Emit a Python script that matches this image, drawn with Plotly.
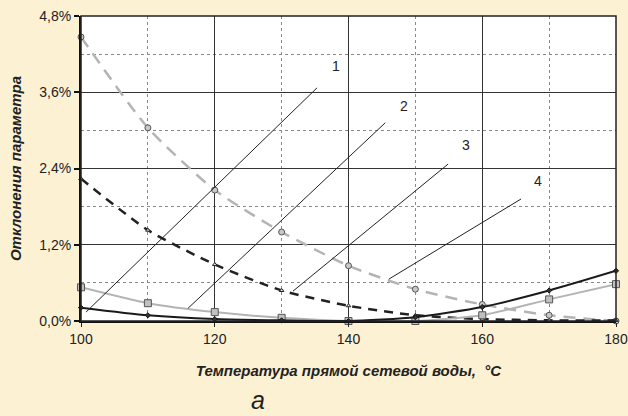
import plotly.graph_objects as go

T = [100, 110, 120, 130, 140, 150, 160, 170, 180]
s_gray_dash = [4.47, 3.04, 2.06, 1.40, 0.87, 0.50, 0.26, 0.09, 0.0]
s_dark_dash = [2.24, 1.43, 0.89, 0.48, 0.24, 0.09, 0.03, 0.01, 0.01]
s_gray_solid = [0.53, 0.28, 0.14, 0.05, 0.0, 0.0, 0.09, 0.34, 0.58]
s_black = [0.21, 0.09, 0.03, 0.01, 0.0, 0.06, 0.22, 0.48, 0.79]

y_ticks = [0, 1.2, 2.4, 3.6, 4.8]
x_ticks = [100, 120, 140, 160, 180]

labels = ["1", "2", "3", "4"]
leader_start = [(100.75, 0.14), (116.0, 0.20), (131.7, 0.47), (146.05, 0.66)]
leader_end = [(135.3, 3.67), (145.5, 3.12), (154.9, 2.47), (165.8, 1.92)]
label_pos = [(137.3, 3.86), (147.4, 3.23), (156.6, 2.61), (167.4, 2.05)]

def frac(v):
    return [x / 100 for x in v]

fig = go.Figure()

fig.add_trace(go.Scatter(
    x=T, y=frac(s_gray_dash), mode="lines+markers",
    line=dict(color="#b4b4b4", width=2.5, dash="12px,8px", shape="spline", smoothing=0.6),
    marker=dict(symbol="circle", size=6, color="#c8c8c8", line=dict(color="#555", width=1)),
    showlegend=False, cliponaxis=False))
fig.add_trace(go.Scatter(
    x=T, y=frac(s_dark_dash), mode="lines+markers",
    line=dict(color="#222", width=2.5, dash="9px,7px", shape="spline", smoothing=0.6),
    marker=dict(symbol="triangle-up", size=4, color="#eee", line=dict(color="#222", width=1)),
    showlegend=False, cliponaxis=False))
fig.add_trace(go.Scatter(
    x=T, y=frac(s_gray_solid), mode="lines+markers",
    line=dict(color="#b4b4b4", width=2, shape="spline", smoothing=0.6),
    marker=dict(symbol="square", size=7, color="#c0c0c0", line=dict(color="#555", width=1)),
    showlegend=False, cliponaxis=False))
fig.add_trace(go.Scatter(
    x=T, y=frac(s_black), mode="lines+markers",
    line=dict(color="#1a1a1a", width=2, shape="spline", smoothing=0.6),
    marker=dict(symbol="diamond", size=4, color="#333", line=dict(color="#111", width=1)),
    showlegend=False, cliponaxis=False))

shapes = []
annotations = []
for lab, (x0, y0), (x1, y1), (lx, ly) in zip(labels, leader_start, leader_end, label_pos):
    shapes.append(dict(type="line", xref="x", yref="y", x0=x0, y0=y0 / 100, x1=x1, y1=y1 / 100,
                       line=dict(color="#222", width=1)))
    annotations.append(dict(x=lx, y=ly / 100, xref="x", yref="y", text=lab, showarrow=False,
                            font=dict(size=14, color="#222", family="Liberation Sans, Arial"),
                            xanchor="left", yanchor="bottom"))

annotations.append(dict(x=(258 - 81) / 535, y=-(416 - 321) / 305, xref="paper", yref="paper",
                        text="<i>а</i>", showarrow=False, xanchor="center", yanchor="bottom",
                        font=dict(size=25, color="#222", family="Liberation Sans, Arial")))

fig.update_layout(
    width=628, height=416,
    margin=dict(l=81, r=12, t=16, b=95, autoexpand=False),
    paper_bgcolor="#fdf1d4",
    plot_bgcolor="#ffffff",
    separators=", ",
    font=dict(family="Liberation Sans, Arial", size=13, color="#222"),
    shapes=shapes,
    annotations=annotations,
)

fig.update_xaxes(
    range=[100, 180], tickvals=x_ticks, ticks="outside", ticklen=4, tickcolor="#222",
    showgrid=True, gridcolor="#333", gridwidth=1,
    minor=dict(dtick=10, tick0=100, showgrid=True, gridcolor="#888", griddash="dot", ticks=""),
    showline=True, linecolor="#111", linewidth=2, mirror=False,
    zeroline=False, automargin=False,
    tickfont=dict(size=14),
    title=dict(text="<b><i>Температура прямой сетевой воды,  °C</i></b>", font=dict(size=15), standoff=20),
)
fig.update_yaxes(
    range=[0, 0.048], tickvals=[v / 100 for v in y_ticks], tickformat=".1%",
    ticks="outside", ticklen=5, tickcolor="#111", tickwidth=2,
    showgrid=True, gridcolor="#333", gridwidth=1,
    minor=dict(dtick=0.006, tick0=0, showgrid=True, gridcolor="#888", griddash="dot", ticks=""),
    showline=True, linecolor="#111", linewidth=2, mirror=False,
    zeroline=False, automargin=False,
    tickfont=dict(size=14),
    title=dict(text="<b><i>Отклонения параметра</i></b>", font=dict(size=15), standoff=14),
)

fig.add_shape(type="rect", xref="paper", yref="paper", x0=0, y0=0, x1=1, y1=1,
              line=dict(color="#222", width=1.5), layer="above")

fig.write_html("out.html", config={"displayModeBar": False},
               post_script="document.body.style.margin='0';document.body.style.background='#fdf1d4';")
